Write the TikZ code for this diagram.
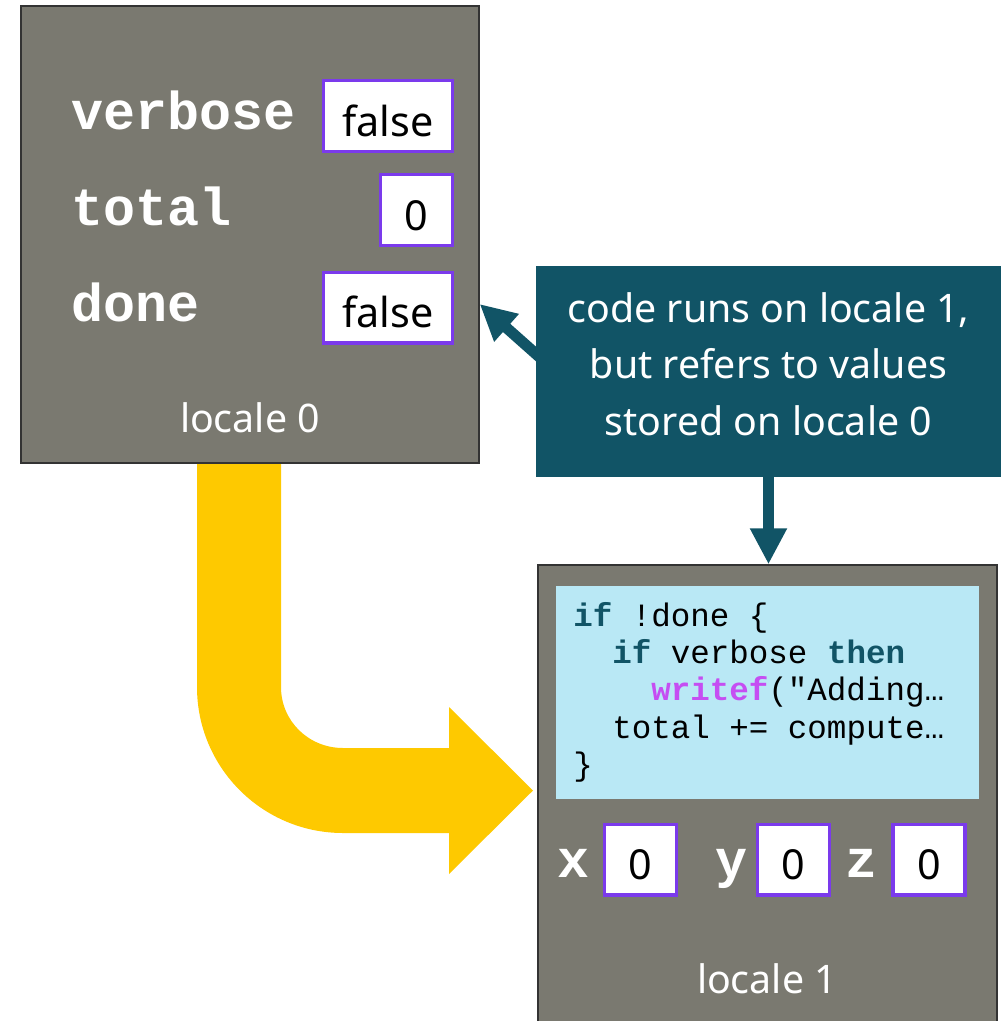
\documentclass[tikz,border=0pt]{standalone}
\usepackage{fontspec}
\setmainfont{Noto Sans}
\newfontfamily\codefont{Liberation Mono}
\usetikzlibrary{arrows.meta,fit}
\pgfdeclarelayer{background}
\pgfsetlayers{background,main}
\definecolor{localegray}{HTML}{7A7970}
\definecolor{calloutteal}{HTML}{115466}
\definecolor{codeblue}{HTML}{B9E8F5}
\definecolor{valpurple}{HTML}{7B3AEC}
\definecolor{arrowyellow}{HTML}{FEC900}
\definecolor{kwpink}{HTML}{C54EF2}
\tikzset{
  localebox/.style={draw=black!80, line width=1pt, fill=localegray, inner sep=0pt},
  valbox/.style={draw=valpurple, line width=2.5pt, fill=white, minimum height=53pt,
    text height=30pt, text depth=0pt, inner sep=0pt, font=\fontsize{31}{36}\selectfont},
  widebox/.style={valbox, minimum width=96.5pt},
  narrowbox/.style={valbox, minimum width=53.8pt},
  varname/.style={text=white, font=\codefont\bfseries\fontsize{40}{44}\selectfont, inner sep=0pt},
  codeline/.style={font=\codefont\fontsize{24.4}{28}\selectfont, anchor=base west, inner sep=0pt},
  labeltext/.style={text=white, font=\fontsize{29.5}{34}\selectfont, anchor=base, inner sep=0pt},
  calloutbox/.style={fill=calloutteal, inner sep=0pt,
    minimum width=348.75pt, minimum height=158.25pt},
  callouttext/.style={text=white, align=center, inner sep=0pt, font=\fontsize{29.5}{42.4}\selectfont},
  tealarrow/.style={draw=calloutteal, line width=8.25pt, -{Triangle[length=27pt,width=26pt]}},
  bigarrow/.style={fill=arrowyellow, draw=none}
}
\newcommand{\kw}[1]{{\bfseries\color{calloutteal}#1}}
\newcommand{\fn}[1]{{\bfseries\color{kwpink}#1}}
\begin{document}
\begin{tikzpicture}[x=0.75pt,y=-0.75pt]
\useasboundingbox (0,0) rectangle (1005,1021);

% yellow bent arrow (locale 0 -> locale 1)
\path[bigarrow] (197,463) -- (197,687) .. controls (197,767.6) and (262.4,833) .. (343,833)
  -- (449,833) -- (449,874) -- (533,790.5) -- (449,707) -- (449,748) -- (343,748)
  .. controls (308.8,748) and (281,721.2) .. (281,687) -- (281,463) -- cycle;

% locale 0
\node[localebox, fit={(21,6) (479,463)}] (loc0) {};
\node[varname, anchor=base west] (nverbose) at (71,129) {verbose};
\node[varname, anchor=base west] (ntotal) at (71,225) {total};
\node[varname, anchor=base west] (ndone) at (71,321) {done};
\node[widebox] (vverbose) at (388,116) {false};
\node[narrowbox] (vtotal) at (416.5,210) {0};
\node[widebox] (vdone) at (388,307.5) {false};
\node[labeltext] (lab0) at (250,432) {locale 0};

% locale 1
\node[localebox, fit={(538,565) (997,1030)}] (loc1) {};
\node[fill=codeblue, inner sep=0pt, fit={(556,586) (979,799)}] (code) {};
\node[codeline] (c1) at (573,626) {\kw{if} !done \{};
\node[codeline] (c2) at (612,663) {\kw{if} verbose \kw{then}};
\node[codeline] (c3) at (651,700) {\fn{writef}("Adding…};
\node[codeline] (c4) at (612,738) {total += compute…};
\node[codeline] (c5) at (573,775) {\}};
\node[varname, anchor=base] (nx) at (573,877) {x};
\node[varname, anchor=base] (ny) at (731.5,877) {y};
\node[varname, anchor=base] (nz) at (861,877) {z};
\node[narrowbox] (vx) at (640.5,859.5) {0};
\node[narrowbox] (vy) at (793.5,859.5) {0};
\node[narrowbox] (vz) at (929,859.5) {0};
\node[labeltext] (lab1) at (767,993) {locale 1};

% callout
\node[calloutbox] (callout) at (768.5,371.5) {};
\node[callouttext] (calltext) at (768.5,364) {code runs on locale 1,\\but refers to values\\stored on locale 0};
\coordinate (tipA) at (loc0.east |- 0,304);
\begin{pgfonlayer}{background}
\draw[tealarrow] ([xshift=15pt]callout.west) -- (tipA);
\draw[tealarrow] ([yshift=10pt]callout.south) -- (callout.south |- loc1.north);
\end{pgfonlayer}
\end{tikzpicture}
\end{document}
